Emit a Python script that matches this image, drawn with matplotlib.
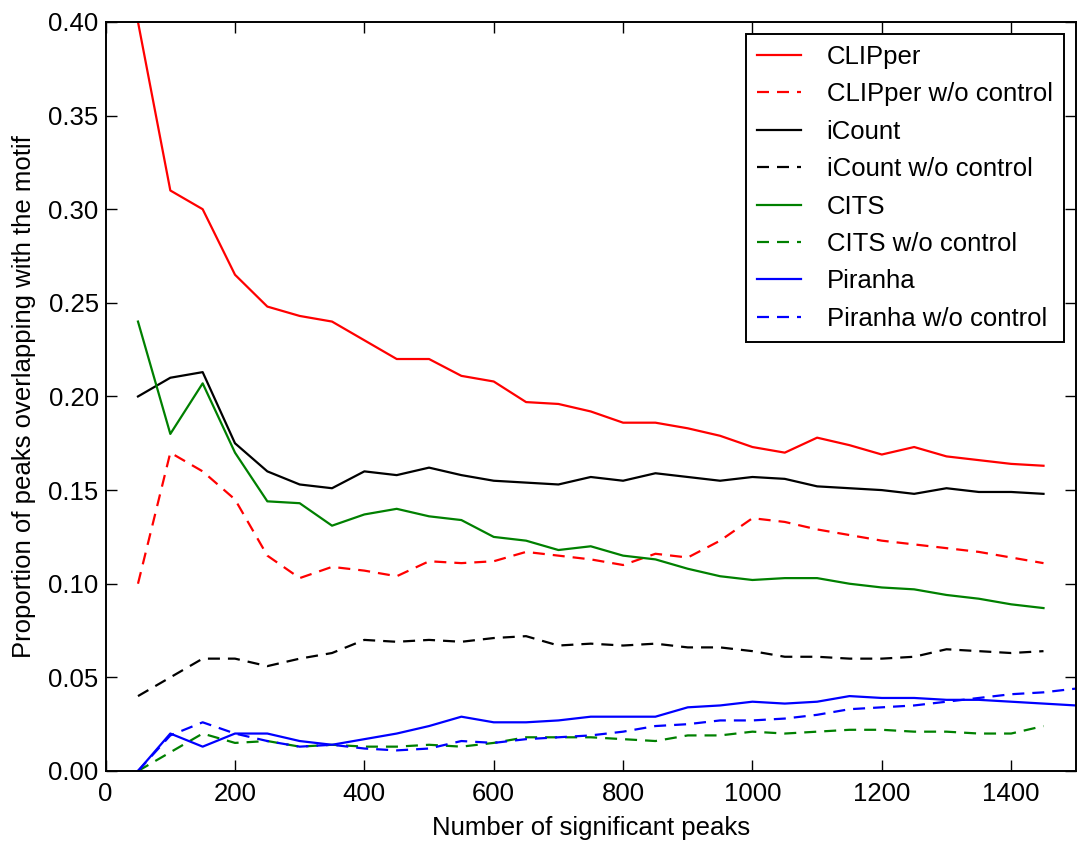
import numpy as np
import matplotlib
matplotlib.use("Agg")
import matplotlib.pyplot as plt

plt.rcParams['font.family'] = ['Liberation Sans', 'DejaVu Sans']

# number of significant peaks
n_peaks = list(range(50, 1500, 50))
n_peaks_ext = n_peaks + [1500]

clipper = [0.400, 0.310, 0.300, 0.265, 0.248, 0.243, 0.240, 0.230, 0.220, 0.220,
           0.211, 0.208, 0.197, 0.196, 0.192, 0.186, 0.186, 0.183, 0.179, 0.173,
           0.170, 0.178, 0.174, 0.169, 0.173, 0.168, 0.166, 0.164, 0.163]
clipper_noctrl = [0.100, 0.170, 0.160, 0.145, 0.115, 0.103, 0.109, 0.107, 0.104, 0.112,
                  0.111, 0.112, 0.117, 0.115, 0.113, 0.110, 0.116, 0.114, 0.123, 0.135,
                  0.133, 0.129, 0.126, 0.123, 0.121, 0.119, 0.117, 0.114, 0.111]
icount = [0.200, 0.210, 0.213, 0.175, 0.160, 0.153, 0.151, 0.160, 0.158, 0.162,
          0.158, 0.155, 0.154, 0.153, 0.157, 0.155, 0.159, 0.157, 0.155, 0.157,
          0.156, 0.152, 0.151, 0.150, 0.148, 0.151, 0.149, 0.149, 0.148]
icount_noctrl = [0.040, 0.050, 0.060, 0.060, 0.056, 0.060, 0.063, 0.070, 0.069, 0.070,
                 0.069, 0.071, 0.072, 0.067, 0.068, 0.067, 0.068, 0.066, 0.066, 0.064,
                 0.061, 0.061, 0.060, 0.060, 0.061, 0.065, 0.064, 0.063, 0.064]
cits = [0.240, 0.180, 0.207, 0.170, 0.144, 0.143, 0.131, 0.137, 0.140, 0.136,
        0.134, 0.125, 0.123, 0.118, 0.120, 0.115, 0.113, 0.108, 0.104, 0.102,
        0.103, 0.103, 0.100, 0.098, 0.097, 0.094, 0.092, 0.089, 0.087]
cits_noctrl = [0.000, 0.010, 0.020, 0.015, 0.016, 0.013, 0.014, 0.013, 0.013, 0.014,
               0.013, 0.015, 0.018, 0.018, 0.018, 0.017, 0.016, 0.019, 0.019, 0.021,
               0.020, 0.021, 0.022, 0.022, 0.021, 0.021, 0.020, 0.020, 0.024]
piranha = [0.000, 0.020, 0.013, 0.020, 0.020, 0.016, 0.014, 0.017, 0.020, 0.024,
           0.029, 0.026, 0.026, 0.027, 0.029, 0.029, 0.029, 0.034, 0.035, 0.037,
           0.036, 0.037, 0.040, 0.039, 0.039, 0.038, 0.038, 0.037, 0.036, 0.035]
piranha_noctrl = [0.000, 0.019, 0.026, 0.020, 0.016, 0.013, 0.014, 0.012, 0.011, 0.012,
                  0.016, 0.015, 0.017, 0.018, 0.019, 0.021, 0.024, 0.025, 0.027, 0.027,
                  0.028, 0.030, 0.033, 0.034, 0.035, 0.037, 0.039, 0.041, 0.042, 0.044]

fig = plt.figure(figsize=(10.78, 8.44), dpi=100)
ax = fig.add_axes([0.098, 0.0865, 0.9, 0.8875])

lw = 1.6
dash = (0, (5.4, 3.6))
fs = 18.5
ax.plot(n_peaks, clipper, color='red', lw=lw, label='CLIPper')
ax.plot(n_peaks, clipper_noctrl, color='red', lw=lw, ls=dash, label='CLIPper w/o control')
ax.plot(n_peaks, icount, color='black', lw=lw, label='iCount')
ax.plot(n_peaks, icount_noctrl, color='black', lw=lw, ls=dash, label='iCount w/o control')
ax.plot(n_peaks, cits, color='green', lw=lw, label='CITS')
ax.plot(n_peaks, cits_noctrl, color='green', lw=lw, ls=dash, label='CITS w/o control')
ax.plot(n_peaks_ext, piranha, color='blue', lw=lw, label='Piranha')
ax.plot(n_peaks_ext, piranha_noctrl, color='blue', lw=lw, ls=dash, label='Piranha w/o control')

ax.set_xlim(0, 1500)
ax.set_ylim(0, 0.40)
ax.set_xticks(np.arange(0, 1401, 200))
ax.set_yticks(np.arange(0, 0.401, 0.05))
ax.yaxis.set_major_formatter(matplotlib.ticker.FormatStrFormatter('%.2f'))
ax.tick_params(direction='in', top=True, right=True, length=8, width=1, labelsize=fs, pad=5)
ax.tick_params(axis='x', pad=8)
for s in ax.spines.values():
    s.set_linewidth(1.4)

ax.set_xlabel('Number of significant peaks', fontsize=fs, labelpad=7)
ax.set_ylabel('Proportion of peaks overlapping with the motif', fontsize=fs, labelpad=9)

leg = ax.legend(loc='upper right', fontsize=fs, fancybox=False, framealpha=1,
                edgecolor='black', handlelength=1.7, borderaxespad=0.45,
                labelspacing=0.52, handletextpad=1.0, borderpad=0.45)
leg.get_frame().set_linewidth(1.4)

fig.savefig('out.png', dpi=100)
